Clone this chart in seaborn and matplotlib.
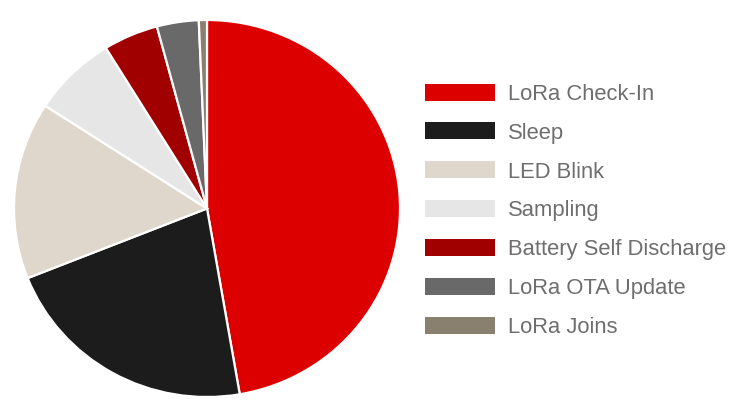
import matplotlib
matplotlib.use("Agg")
import matplotlib.pyplot as plt
import seaborn as sns

categories = ["LoRa Check-In", "Sleep", "LED Blink", "Sampling",
              "Battery Self Discharge", "LoRa OTA Update", "LoRa Joins"]
values = [47.3, 21.7, 15.2, 7.05, 4.6, 3.5, 0.68]
colors = ["#DD0000", "#1C1C1C", "#E0D7CC", "#E6E6E6", "#A00000", "#696969", "#8A8070"]

sns.set_theme(style="white")
plt.rcParams["font.family"] = ["Liberation Sans", "DejaVu Sans"]

W, H = 751, 416
fig = plt.figure(figsize=(W / 100, H / 100), dpi=100)
fig.patch.set_facecolor("white")
# pie area in pixels: x 14..400, y 20..397
ax = fig.add_axes([14 / W, (H - 397) / H, 386 / W, 377 / H])
wedges, _ = ax.pie(values, colors=colors, startangle=90, counterclock=False,
                   radius=1.0,
                   wedgeprops=dict(edgecolor="white", linewidth=1.6))
ax.set_aspect("auto")
ax.set_xlim(-1, 1)
ax.set_ylim(-1, 1)
ax.axis("off")

fs = 15.8
leg = fig.legend(wedges, categories, loc="upper left",
                 bbox_to_anchor=(425 / W, 1 - 83.5 / H),
                 frameon=False, fontsize=fs, borderpad=0, borderaxespad=0,
                 handlelength=3.18, handleheight=0.82, handletextpad=0.6,
                 labelspacing=0.81)
for t in leg.get_texts():
    t.set_color("#6E6E6E")
for p in leg.get_patches():
    p.set_edgecolor("none")

fig.savefig("out.png", dpi=100, facecolor="white")
